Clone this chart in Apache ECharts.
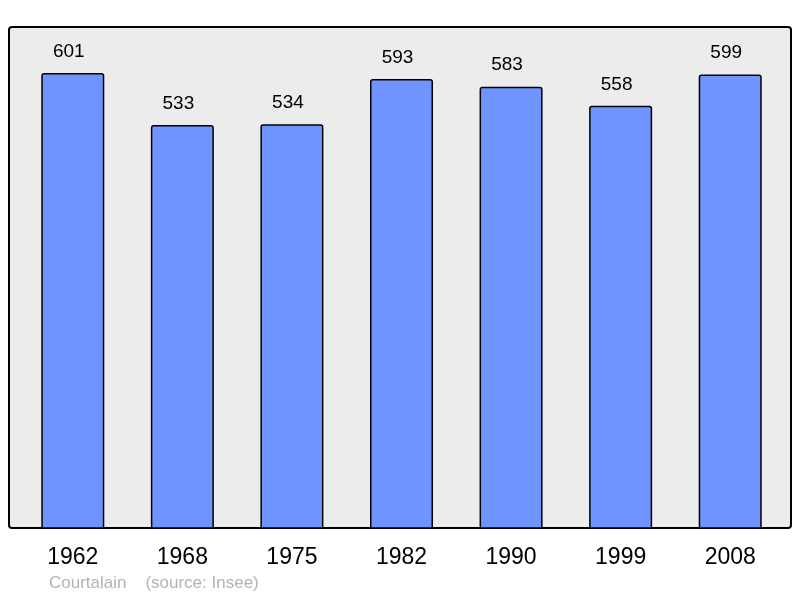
<!DOCTYPE html>
<html><head><meta charset="utf-8">
<script src="https://cdn.jsdelivr.net/npm/echarts@6/dist/echarts.min.js"></script>
<style>html,body{margin:0;padding:0;background:#fff}#c{width:800px;height:598px}</style>
</head><body><div id="c"></div>
<script>
const years = ['1962','1968','1975','1982','1990','1999','2008'];
const population = [601,533,534,593,583,558,599];
const sourceText = 'Courtalain    (source: Insee)';

const chart = echarts.init(document.getElementById('c'), null, {renderer:'canvas'});
chart.setOption({
  animation:false,
  backgroundColor:'#ffffff',
  graphic:[
    {type:'rect', z:-10, shape:{x:9,y:27,width:782,height:501,r:3},
     style:{fill:'#ececec', stroke:'#000', lineWidth:2}},
    {type:'text', left:49, top:575, style:{text:sourceText, fill:'#b3b3b3', font:'17px "Liberation Sans", Arial, sans-serif'}}
  ],
  grid:{left:18, width:767, top:27, bottom:70, containLabel:false},
  xAxis:{type:'category', data:years, axisLine:{show:false}, axisTick:{show:false},
    axisLabel:{color:'#000', fontSize:23, fontFamily:'Liberation Sans, Arial, sans-serif', margin:18}},
  yAxis:{type:'value', min:6, max:661, show:false, splitLine:{show:false}},
  series:[{type:'bar', data:population, barWidth:63,
    itemStyle:{color:'#7094ff', borderColor:'#000', borderWidth:1.5, borderRadius:[2,2,0,0]},
    label:{show:true, position:'top', distance:12, offset:[-4,0], color:'#000', fontSize:19, fontFamily:'Liberation Sans, Arial, sans-serif'}
  }]
});
</script></body></html>
